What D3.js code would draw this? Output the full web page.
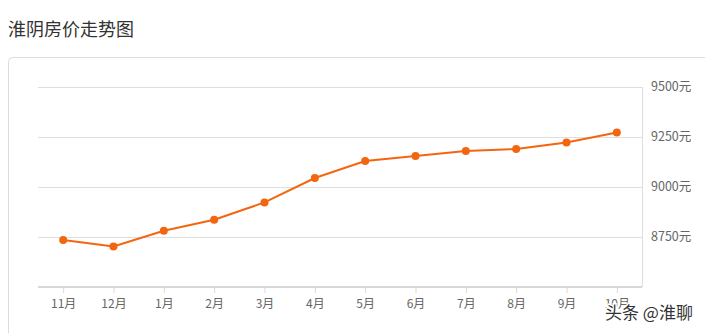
<!DOCTYPE html>
<html>
<head>
<meta charset="utf-8">
<script src="https://cdn.jsdelivr.net/npm/d3@7"></script>
<style>
	body { margin: 0; background: #fff; font-family: "Noto Sans CJK SC", "Noto Sans", sans-serif; }
	svg { display: block; }
</style>
</head>
<body>
<div id="chart"></div>
<script>
// data
var months = ["11月","12月","1月","2月","3月","4月","5月","6月","7月","8月","9月","10月"];
var prices = [8735, 8703, 8781, 8836, 8923, 9045, 9130, 9155, 9180, 9190, 9223, 9273];
var yTicks = [8750, 9000, 9250, 9500];

var width = 705, height = 333;
var plotLeft = 38, plotRight = 642, plotTop = 87, plotBottom = 287;
var orange = "#f4650f";

var svg = d3.select('#chart')
	.append('svg')
	.attr('width', width)
	.attr('height', height);

// title
svg.append('text')
	.attr('x', 8)
	.attr('y', 36)
	.style('font-size', '18px')
	.style('fill', '#333')
	.text("淮阴房价走势图");

// card frame
svg.append('rect')
	.attr('x', 8.5)
	.attr('y', 57.5)
	.attr('width', 720)
	.attr('height', 300)
	.attr('rx', 4)
	.style('fill', 'none')
	.style('stroke', '#dcdcdc');

var x = d3.scalePoint()
	.domain(months)
	.range([plotLeft, plotRight])
	.padding(0.5);

var y = d3.scaleLinear()
	.domain([8500, 9500])
	.range([plotBottom, plotTop]);

// grid lines
svg.selectAll('line.grid')
	.data(yTicks)
	.enter()
	.append('line')
	.attr('class', 'grid')
	.attr('x1', plotLeft)
	.attr('x2', plotRight)
	.attr('y1', function(d){ return Math.round(y(d)) + 0.5; })
	.attr('y2', function(d){ return Math.round(y(d)) + 0.5; })
	.style('stroke', '#dedede')
	.style('stroke-width', 1);

// right border of plot
svg.append('line')
	.attr('x1', plotRight + 0.5)
	.attr('x2', plotRight + 0.5)
	.attr('y1', plotTop)
	.attr('y2', plotBottom)
	.style('stroke', '#dedede');

// y labels
svg.selectAll('text.ylab')
	.data(yTicks)
	.enter()
	.append('text')
	.attr('class', 'ylab')
	.attr('x', 651)
	.attr('y', function(d){ return y(d); })
	.attr('dy', '0.35em')
	.style('font-size', '12.5px')
	.style('fill', '#666')
	.text(function(d){ return d + "元"; });

// x axis
var xAxis = svg.append('g')
	.attr('transform', 'translate(0,' + plotBottom + ')')
	.call(d3.axisBottom(x).tickSize(6).tickPadding(6));
xAxis.select('.domain')
	.attr('d', 'M' + plotLeft + ',0H' + plotRight)
	.style('stroke', '#d8d8d8')
	.style('stroke-width', 2);
xAxis.selectAll('.tick line')
	.style('stroke', '#d8d8d8');
xAxis.selectAll('.tick text')
	.style('font-size', '12px')
	.style('fill', '#666')
	.style('font-family', '"Noto Sans CJK SC", sans-serif');

// line
var line = d3.line()
	.x(function(d, i){ return x(months[i]); })
	.y(function(d){ return y(d); });

svg.append('path')
	.datum(prices)
	.attr('d', line)
	.style('fill', 'none')
	.style('stroke', orange)
	.style('stroke-width', 2);

svg.selectAll('circle.pt')
	.data(prices)
	.enter()
	.append('circle')
	.attr('class', 'pt')
	.attr('cx', function(d, i){ return x(months[i]); })
	.attr('cy', function(d){ return y(d); })
	.attr('r', 4)
	.style('fill', orange);

// watermark
svg.append('text')
	.attr('x', 605)
	.attr('y', 319)
	.style('font-size', '17px')
	.style('fill', '#333')
	.style('stroke', '#fff')
	.style('stroke-width', 3)
	.style('paint-order', 'stroke')
	.text("头条 @淮聊");
</script>
</body>
</html>
